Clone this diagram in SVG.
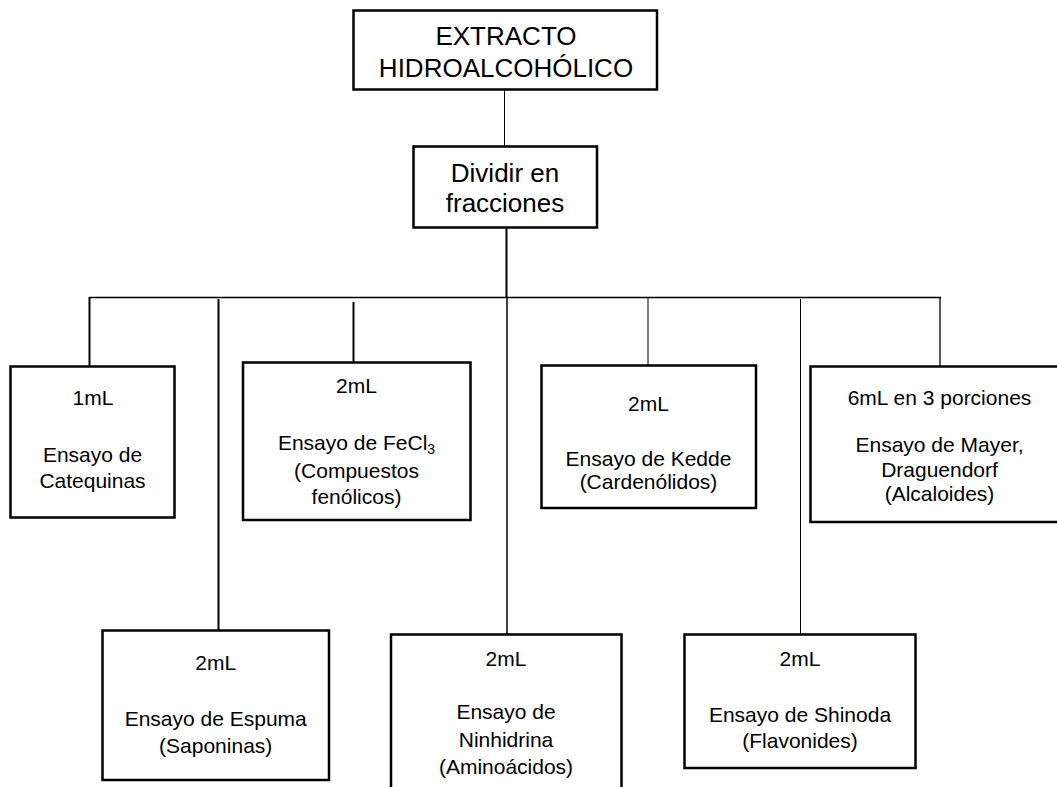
<svg xmlns="http://www.w3.org/2000/svg" width="1057" height="787" viewBox="0 0 1057 787">
<style>
.box{fill:#fff;stroke:#000;stroke-width:2.5}
.t{font-family:"Liberation Sans",Arial,sans-serif;font-size:21px;fill:#000;text-anchor:middle}
.tb{font-family:"Liberation Sans",Arial,sans-serif;font-size:26px;fill:#000;text-anchor:middle}
.c{stroke:#000;fill:none}
</style>
<rect width="1057" height="787" fill="#fff"/>
<g id="connectors">
<line class="c" x1="504.5" y1="89" x2="504.5" y2="146" stroke-width="1"/>
<line class="c" x1="506.5" y1="228" x2="506.5" y2="298" stroke-width="2"/>
<line class="c" x1="89" y1="297.5" x2="941" y2="297.5" stroke-width="1.5"/>
<line class="c" x1="89.5" y1="297" x2="89.5" y2="366" stroke-width="2"/>
<line class="c" x1="218.5" y1="299" x2="218.5" y2="630" stroke-width="2"/>
<line class="c" x1="353.5" y1="302" x2="353.5" y2="362" stroke-width="2"/>
<line class="c" x1="507" y1="298" x2="507" y2="634" stroke-width="1.5"/>
<line class="c" x1="648" y1="298" x2="648" y2="365" stroke-width="1"/>
<line class="c" x1="800.5" y1="299" x2="800.5" y2="634" stroke-width="1"/>
<line class="c" x1="940" y1="298" x2="940" y2="366" stroke-width="1.3"/>
</g>
<g id="extracto">
<rect class="box" x="353.5" y="10.5" width="303.5" height="79"/>
<text class="tb" x="506" y="45">EXTRACTO</text>
<text class="tb" x="506" y="77">HIDROALCOHÓLICO</text>
</g>
<g id="dividir">
<rect class="box" x="413.5" y="146.5" width="183.5" height="81"/>
<text class="tb" x="505" y="182">Dividir en</text>
<text class="tb" x="505" y="212">fracciones</text>
</g>
<g id="catequinas">
<rect class="box" x="10.5" y="366.5" width="164" height="151"/>
<text class="t" x="93" y="405">1mL</text>
<text class="t" x="92.5" y="462">Ensayo de</text>
<text class="t" x="92.5" y="487.5">Catequinas</text>
</g>
<g id="fecl3">
<rect class="box" x="243" y="362.5" width="227.5" height="157.5"/>
<text class="t" x="356.5" y="392.5">2mL</text>
<text class="t" x="356.5" y="450">Ensayo de FeCl<tspan font-size="14" dy="4">3</tspan></text>
<text class="t" x="356.5" y="477.5">(Compuestos</text>
<text class="t" x="356.5" y="504">fenólicos)</text>
</g>
<g id="kedde">
<rect class="box" x="541.5" y="365.5" width="214.5" height="142.5"/>
<text class="t" x="648.5" y="411">2mL</text>
<text class="t" x="648.5" y="465.5">Ensayo de Kedde</text>
<text class="t" x="648.5" y="489">(Cardenólidos)</text>
</g>
<g id="mayer">
<rect class="box" x="810.5" y="366.5" width="260" height="155.5"/>
<text class="t" x="939.5" y="405">6mL en 3 porciones</text>
<text class="t" x="939.5" y="452">Ensayo de Mayer,</text>
<text class="t" x="939.5" y="476.5">Draguendorf</text>
<text class="t" x="939.5" y="501">(Alcaloides)</text>
</g>
<g id="espuma">
<rect class="box" x="102.5" y="630.5" width="226.5" height="149.5"/>
<text class="t" x="215.7" y="670">2mL</text>
<text class="t" x="215.7" y="725.5">Ensayo de Espuma</text>
<text class="t" x="215.7" y="752.5">(Saponinas)</text>
</g>
<g id="ninhidrina">
<rect class="box" x="391" y="634.5" width="230.5" height="160"/>
<text class="t" x="506" y="665.5">2mL</text>
<text class="t" x="506" y="719">Ensayo de</text>
<text class="t" x="506" y="746.5">Ninhidrina</text>
<text class="t" x="506" y="773.5">(Aminoácidos)</text>
</g>
<g id="shinoda">
<rect class="box" x="684.5" y="634.5" width="231" height="133.5"/>
<text class="t" x="800" y="666">2mL</text>
<text class="t" x="800" y="722">Ensayo de Shinoda</text>
<text class="t" x="800" y="748">(Flavonides)</text>
</g>
</svg>
